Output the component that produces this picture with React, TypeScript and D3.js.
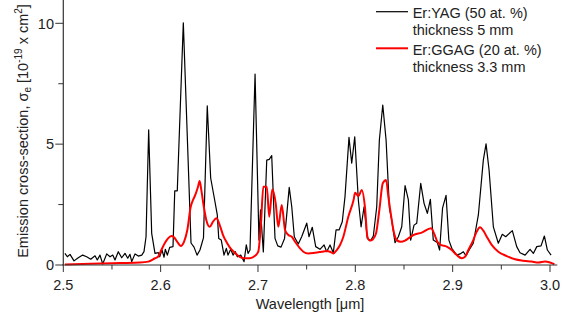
import React from "react";
import * as d3 from "d3";

const yagWl = [2.5017,2.5041,2.5069,2.5110,2.5154,2.5199,2.5240,2.5282,2.5326,2.5349,
2.5377,2.5405,2.5446,2.5480,2.5508,2.5531,2.5565,2.5600,2.5634,2.5662,
2.5685,2.5703,2.5737,2.5771,2.5806,2.5829,2.5850,2.5877,2.5908,2.5942,
2.5976,2.5990,2.6014,2.6035,2.6048,2.6069,2.6093,2.6127,2.6145,2.6171,
2.6233,2.6312,2.6343,2.6374,2.6404,2.6440,2.6479,2.6514,2.6555,2.6582,
2.6597,2.6623,2.6651,2.6675,2.6692,2.6720,2.6744,2.6767,2.6788,2.6823,
2.6857,2.6880,2.6898,2.6918,2.6970,2.7010,2.7026,2.7055,2.7090,2.7116,
2.7141,2.7175,2.7203,2.7237,2.7273,2.7321,2.7347,2.7373,2.7414,2.7449,
2.7501,2.7524,2.7558,2.7593,2.7637,2.7679,2.7706,2.7740,2.7774,2.7802,
2.7833,2.7866,2.7894,2.7935,2.7963,2.7994,2.8031,2.8059,2.8090,2.8123,
2.8158,2.8185,2.8220,2.8247,2.8282,2.8316,2.8350,2.8374,2.8408,2.8442,
2.8477,2.8511,2.8545,2.8569,2.8603,2.8631,2.8672,2.8706,2.8740,2.8771,
2.8801,2.8842,2.8866,2.8896,2.8932,2.8961,2.8991,2.9042,2.9076,2.9110,
2.9137,2.9179,2.9212,2.9264,2.9315,2.9343,2.9374,2.9418,2.9469,2.9510,
2.9545,2.9613,2.9658,2.9692,2.9744,2.9795,2.9829,2.9864,2.9908,2.9942,
2.9973,3.0011];

const yagSigma = [0.48,0.34,0.44,0.17,0.30,0.41,0.34,0.24,0.38,0.21,
0.41,0.04,0.46,0.34,0.41,0.21,0.55,0.30,0.48,0.28,
0.44,0.14,0.46,0.37,0.41,0.55,1.17,5.59,1.31,0.48,
0.51,0.34,0.62,0.32,0.65,0.41,0.73,0.76,3.07,3.07,
10.02,0.91,0.74,0.41,0.62,1.12,6.58,3.60,2.69,2.07,
1.10,1.03,0.41,0.69,0.41,0.65,0.41,0.55,0.34,0.41,
0.14,0.83,0.48,0.62,7.90,1.03,2.28,0.54,4.34,4.37,
4.53,1.10,0.79,0.74,1.10,3.21,2.41,1.17,0.87,1.17,
1.73,1.17,1.56,0.76,0.65,0.83,0.55,0.83,0.51,1.45,
1.45,1.79,2.83,5.28,4.21,5.30,2.69,1.58,2.41,1.10,
1.01,1.20,2.41,5.17,6.62,5.17,2.35,1.86,0.92,1.17,
1.58,3.28,2.69,1.03,1.65,1.73,3.38,2.55,2.14,2.72,
1.03,0.93,0.62,2.35,2.88,1.03,0.69,0.41,0.46,0.55,
0.38,0.69,0.90,2.07,4.34,5.01,3.93,1.58,0.90,1.27,
1.17,1.42,0.76,0.51,0.41,0.65,0.48,0.76,0.79,1.20,
0.62,0.41];

const ggagWl = [2.5017,2.5377,2.5583,2.5788,2.5873,2.5942,2.5973,2.6007,2.6042,2.6076,
2.6110,2.6137,2.6171,2.6206,2.6240,2.6274,2.6309,2.6333,2.6356,2.6384,
2.6401,2.6418,2.6446,2.6469,2.6504,2.6538,2.6572,2.6607,2.6641,2.6675,
2.6710,2.6761,2.6812,2.6864,2.6915,2.6967,2.7003,2.7031,2.7055,2.7090,
2.7116,2.7147,2.7182,2.7209,2.7244,2.7278,2.7312,2.7347,2.7381,2.7432,
2.7466,2.7517,2.7586,2.7655,2.7706,2.7740,2.7774,2.7809,2.7843,2.7877,
2.7928,2.7982,2.7998,2.8032,2.8066,2.8100,2.8124,2.8151,2.8179,2.8213,
2.8247,2.8282,2.8316,2.8339,2.8364,2.8391,2.8425,2.8467,2.8511,2.8545,
2.8596,2.8682,2.8778,2.8809,2.8843,2.8877,2.8939,2.8991,2.9042,2.9093,
2.9127,2.9161,2.9212,2.9247,2.9281,2.9315,2.9350,2.9401,2.9469,2.9556,
2.9641,2.9726,2.9812,2.9880,2.9949,3.0000,3.0045];

const ggagSigma = [0.02,0.06,0.08,0.10,0.14,0.28,0.34,0.62,0.90,1.10,
1.20,1.15,0.96,0.79,0.96,1.45,2.41,2.69,2.90,3.24,
3.48,3.10,2.35,1.86,1.58,1.79,1.93,1.65,1.24,0.96,
0.73,0.51,0.34,0.28,0.28,0.37,0.55,1.73,3.24,3.24,
2.00,3.13,2.55,1.58,2.48,1.45,1.24,1.17,0.96,0.69,
0.55,0.48,0.51,0.55,0.58,0.55,0.48,0.62,0.83,1.17,
2.00,2.69,2.99,2.85,3.10,2.35,1.17,1.01,1.06,1.31,
2.28,3.38,3.52,2.83,2.14,1.45,1.03,0.96,1.01,1.10,
1.24,1.34,1.52,1.31,0.96,0.83,0.76,0.62,0.41,0.28,
0.34,0.62,1.03,1.38,1.56,1.42,1.17,0.83,0.55,0.37,
0.24,0.18,0.14,0.10,0.14,0.10,0.03];

const xMajorTicks = [2.5, 2.6, 2.7, 2.8, 2.9, 3.0];
const xMinorTicks = [2.55, 2.65, 2.75, 2.85, 2.95];
const yMajorTicks = [0, 5, 10];
const yMinorTicks = [2.5, 7.5];

const legendItems = [
  { line1: "Er:YAG (50 at. %)", line2: "thickness 5 mm", color: "#000000", width: 1.2 },
  { line1: "Er:GGAG (20 at. %)", line2: "thickness 3.3 mm", color: "#ff0000", width: 2 },
];

const FONT = "'Liberation Sans', Arial, sans-serif";
const FS = 14.5;
const TXT = "#222";

export default function App() {
  const x = d3.scaleLinear().domain([2.5, 3.0]).range([63.3, 550]);
  const y = d3.scaleLinear().domain([0, 10]).range([265, 23.3]);

  const yag = d3.range(Math.min(yagWl.length, yagSigma.length)).map((i) => [yagWl[i], yagSigma[i]] as [number, number]);
  const ggag = d3.range(Math.min(ggagWl.length, ggagSigma.length)).map((i) => [ggagWl[i], ggagSigma[i]] as [number, number]);

  const line = d3.line<[number, number]>().x((d) => x(d[0])).y((d) => y(d[1]));
  const smooth = d3.line<[number, number]>().x((d) => x(d[0])).y((d) => y(d[1])).curve(d3.curveMonotoneX);

  const x0 = x(2.5);
  const y0 = y(0);

  return (
    <svg width={575} height={320} style={{ position: "absolute", left: 0, top: 0, background: "#fff" }} fontFamily={FONT}>
      <path d={line(yag) || ""} fill="none" stroke="#000" strokeWidth={1.2} strokeLinejoin="round" />
      <path d={smooth(ggag) || ""} fill="none" stroke="#ff0000" strokeWidth={2} strokeLinejoin="round" />

      {/* axes */}
      <line x1={x0 - 1} x2={x(3.0075)} y1={y0} y2={y0} stroke="#333" strokeWidth={1.2} />
      <line x1={x0} x2={x0} y1={y0} y2={0} stroke="#333" strokeWidth={1.2} />

      {xMajorTicks.map((t) => (
        <g key={"xm" + t}>
          <line x1={x(t)} x2={x(t)} y1={y0} y2={y0 + 7} stroke="#333" strokeWidth={1} />
          <text x={x(t)} y={290} textAnchor="middle" fontSize={FS} fill={TXT}>{t.toFixed(1)}</text>
        </g>
      ))}
      {xMinorTicks.map((t) => (
        <line key={"xn" + t} x1={x(t)} x2={x(t)} y1={y0} y2={y0 + 4.5} stroke="#333" strokeWidth={1} />
      ))}
      {yMajorTicks.map((t) => (
        <g key={"ym" + t}>
          <line x1={x0 - 8} x2={x0} y1={y(t)} y2={y(t)} stroke="#333" strokeWidth={1} />
          <text x={54} y={y(t) + 5.2} textAnchor="end" fontSize={FS} fill={TXT}>{t}</text>
        </g>
      ))}
      {yMinorTicks.map((t) => (
        <line key={"yn" + t} x1={x0 - 5} x2={x0} y1={y(t)} y2={y(t)} stroke="#333" strokeWidth={1} />
      ))}

      <text x={310} y={309} textAnchor="middle" fontSize={FS} fill={TXT}>Wavelength [μm]</text>

      <text transform="translate(28.3,131) rotate(-90)" textAnchor="middle" fontSize={FS} fill={TXT}>
        Emission cross-section, σ
        <tspan fontSize={10} dy={3}>e</tspan>
        <tspan dy={-3}> [10</tspan>
        <tspan fontSize={10} dy={-6}>-19</tspan>
        <tspan dy={6}> x cm</tspan>
        <tspan fontSize={10} dy={-6}>2</tspan>
        <tspan dy={6}>]</tspan>
      </text>

      {legendItems.map((it, i) => {
        const ly = i === 0 ? 11.7 : 48.3;
        const b1 = i === 0 ? 18.3 : 55;
        return (
          <g key={it.line1}>
            <line x1={376} x2={408} y1={ly} y2={ly} stroke={it.color} strokeWidth={it.width} />
            <text x={412.7} y={b1} fontSize={FS} fill={TXT}>{it.line1}</text>
            <text x={412.7} y={b1 + 16.7} fontSize={FS} fill={TXT}>{it.line2}</text>
          </g>
        );
      })}
    </svg>
  );
}
